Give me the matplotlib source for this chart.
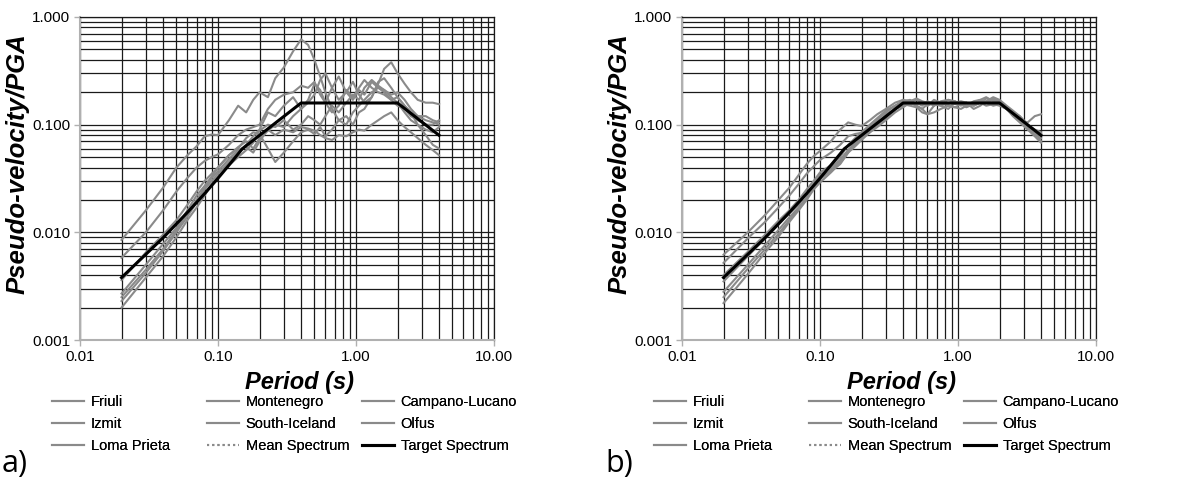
import matplotlib
matplotlib.use("Agg")
import matplotlib.pyplot as plt
from matplotlib.lines import Line2D
from matplotlib.ticker import LogLocator, FixedLocator, NullFormatter

plt.rcParams["font.family"] = ["Liberation Sans", "DejaVu Sans"]

# periods (s) at which the record spectra are read
periods = [0.02, 0.03, 0.04, 0.05, 0.06, 0.07, 0.08, 0.09, 0.10, 0.12,
           0.14, 0.16, 0.18, 0.20, 0.23, 0.26, 0.30, 0.35, 0.40, 0.45,
           0.50, 0.55, 0.60, 0.67, 0.75, 0.85, 0.95, 1.05, 1.15, 1.30,
           1.45, 1.60, 1.80, 2.00, 2.25, 2.50, 2.80, 3.20, 3.60, 4.00]

record_names = ["Friuli", "Montenegro", "Campano-Lucano", "Izmit",
                "South-Iceland", "Olfus", "Loma Prieta"]

# a) unscaled records
friuli_a = [0.0085, 0.016, 0.026, 0.040, 0.052, 0.063, 0.078, 0.081, 0.080, 0.11,
            0.15, 0.13, 0.17, 0.20, 0.18, 0.27, 0.34, 0.48, 0.62, 0.55,
            0.40, 0.28, 0.20, 0.14, 0.11, 0.10, 0.13, 0.15, 0.17, 0.20,
            0.22, 0.21, 0.18, 0.16, 0.13, 0.11, 0.10, 0.09, 0.085, 0.095]
montenegro_a = [0.0058, 0.010, 0.016, 0.024, 0.032, 0.040, 0.046, 0.050, 0.053, 0.065,
                0.080, 0.090, 0.095, 0.10, 0.14, 0.17, 0.19, 0.20, 0.23, 0.22,
                0.25, 0.19, 0.16, 0.22, 0.28, 0.20, 0.17, 0.21, 0.19, 0.25,
                0.22, 0.20, 0.17, 0.15, 0.14, 0.12, 0.11, 0.10, 0.10, 0.11]
campano_a = [0.0036, 0.0065, 0.0095, 0.013, 0.018, 0.024, 0.030, 0.035, 0.040, 0.052,
             0.060, 0.075, 0.085, 0.082, 0.060, 0.045, 0.055, 0.070, 0.085, 0.090,
             0.082, 0.095, 0.078, 0.090, 0.11, 0.12, 0.10, 0.13, 0.14, 0.18,
             0.24, 0.33, 0.38, 0.30, 0.24, 0.20, 0.17, 0.16, 0.16, 0.155]
izmit_a = [0.0027, 0.0050, 0.0078, 0.011, 0.016, 0.022, 0.027, 0.033, 0.040, 0.052,
           0.062, 0.070, 0.060, 0.075, 0.088, 0.10, 0.095, 0.12, 0.14, 0.16,
           0.19, 0.26, 0.30, 0.22, 0.17, 0.20, 0.25, 0.19, 0.16, 0.18,
           0.25, 0.27, 0.22, 0.18, 0.15, 0.13, 0.10, 0.08, 0.065, 0.06]
south_iceland_a = [0.0025, 0.0045, 0.0070, 0.0105, 0.015, 0.020, 0.026, 0.032, 0.037, 0.048,
                   0.058, 0.062, 0.055, 0.070, 0.090, 0.080, 0.090, 0.085, 0.095, 0.092,
                   0.088, 0.080, 0.075, 0.072, 0.080, 0.078, 0.085, 0.090, 0.088, 0.10,
                   0.11, 0.12, 0.13, 0.11, 0.095, 0.085, 0.075, 0.065, 0.058, 0.052]
olfus_a = [0.0023, 0.0042, 0.0067, 0.010, 0.014, 0.019, 0.025, 0.030, 0.035, 0.045,
           0.055, 0.065, 0.078, 0.090, 0.13, 0.12, 0.15, 0.18, 0.14, 0.17,
           0.24, 0.21, 0.16, 0.13, 0.15, 0.21, 0.18, 0.22, 0.26, 0.22,
           0.20, 0.19, 0.17, 0.18, 0.15, 0.13, 0.12, 0.11, 0.105, 0.10]
loma_a = [0.0020, 0.0038, 0.0060, 0.0090, 0.013, 0.017, 0.022, 0.028, 0.033, 0.042,
          0.050, 0.058, 0.068, 0.088, 0.10, 0.095, 0.11, 0.090, 0.10, 0.12,
          0.11, 0.10, 0.12, 0.15, 0.13, 0.16, 0.19, 0.17, 0.22, 0.26,
          0.23, 0.21, 0.19, 0.20, 0.17, 0.14, 0.12, 0.12, 0.11, 0.105]

# b) scaled records
friuli_b = [0.0062, 0.0100, 0.0145, 0.020, 0.026, 0.034, 0.043, 0.051, 0.057, 0.070,
            0.090, 0.105, 0.100, 0.097, 0.110, 0.125, 0.14, 0.16, 0.17, 0.155,
            0.16, 0.15, 0.165, 0.155, 0.15, 0.16, 0.155, 0.16, 0.15, 0.165,
            0.17, 0.16, 0.175, 0.165, 0.145, 0.13, 0.115, 0.10, 0.09, 0.085]
montenegro_b = [0.0052, 0.0088, 0.0125, 0.017, 0.022, 0.028, 0.035, 0.041, 0.047, 0.055,
                0.065, 0.078, 0.082, 0.084, 0.095, 0.11, 0.13, 0.15, 0.165, 0.17,
                0.155, 0.16, 0.15, 0.17, 0.16, 0.155, 0.165, 0.15, 0.16, 0.15,
                0.16, 0.175, 0.17, 0.16, 0.14, 0.125, 0.11, 0.095, 0.085, 0.078]
campano_b = [0.0040, 0.0066, 0.0095, 0.0128, 0.016, 0.020, 0.025, 0.030, 0.036, 0.042,
             0.050, 0.065, 0.075, 0.085, 0.10, 0.115, 0.135, 0.15, 0.165, 0.16,
             0.15, 0.14, 0.125, 0.15, 0.16, 0.15, 0.145, 0.155, 0.16, 0.14,
             0.15, 0.165, 0.16, 0.155, 0.14, 0.125, 0.11, 0.105, 0.12, 0.125]
izmit_b = [0.0035, 0.0060, 0.0088, 0.0118, 0.0150, 0.018, 0.023, 0.028, 0.034, 0.040,
           0.047, 0.058, 0.068, 0.080, 0.095, 0.105, 0.12, 0.14, 0.15, 0.165,
           0.17, 0.16, 0.15, 0.16, 0.155, 0.17, 0.165, 0.155, 0.15, 0.16,
           0.17, 0.18, 0.165, 0.16, 0.145, 0.13, 0.12, 0.10, 0.088, 0.082]
south_iceland_b = [0.0028, 0.0050, 0.0076, 0.0105, 0.0138, 0.017, 0.021, 0.026, 0.032, 0.037,
                   0.043, 0.055, 0.070, 0.078, 0.090, 0.10, 0.125, 0.14, 0.155, 0.15,
                   0.145, 0.13, 0.125, 0.13, 0.14, 0.15, 0.145, 0.14, 0.15, 0.155,
                   0.16, 0.15, 0.155, 0.15, 0.14, 0.125, 0.11, 0.095, 0.08, 0.075]
olfus_b = [0.0025, 0.0046, 0.0070, 0.0097, 0.013, 0.0165, 0.021, 0.026, 0.031, 0.038,
           0.046, 0.058, 0.065, 0.075, 0.085, 0.10, 0.115, 0.145, 0.17, 0.165,
           0.175, 0.165, 0.16, 0.15, 0.165, 0.17, 0.16, 0.165, 0.16, 0.15,
           0.16, 0.165, 0.18, 0.17, 0.15, 0.135, 0.12, 0.10, 0.085, 0.07]
loma_b = [0.0022, 0.0041, 0.0065, 0.0091, 0.0125, 0.016, 0.020, 0.025, 0.029, 0.036,
          0.044, 0.055, 0.063, 0.072, 0.085, 0.095, 0.11, 0.13, 0.145, 0.16,
          0.15, 0.14, 0.155, 0.16, 0.15, 0.14, 0.16, 0.155, 0.145, 0.155,
          0.165, 0.16, 0.15, 0.155, 0.14, 0.12, 0.105, 0.09, 0.078, 0.068]

# target spectrum (pseudo-velocity / PGA)
target_periods = [0.02, 0.04, 0.06, 0.08, 0.10, 0.125, 0.15, 0.4, 2.0, 4.0]
target_values = [0.0038, 0.0089, 0.0153, 0.0229, 0.0318, 0.0448, 0.0597, 0.159, 0.159, 0.0796]

records_a = [friuli_a, montenegro_a, campano_a, izmit_a, south_iceland_a, olfus_a, loma_a]
records_b = [friuli_b, montenegro_b, campano_b, izmit_b, south_iceland_b, olfus_b, loma_b]

x_ticks = [0.01, 0.1, 1, 10]
x_tick_labels = ["0.01", "0.10", "1.00", "10.00"]
y_ticks = [0.001, 0.01, 0.1, 1]
y_tick_labels = ["0.001", "0.010", "0.100", "1.000"]

GREY = "#8a8a8a"
W, H = 1198, 484

fig = plt.figure(figsize=(W / 100, H / 100), dpi=100)


def draw_panel(left_px, records, letter, letter_x_px):
    ax = fig.add_axes([left_px / W, 1 - 340 / H, 414 / W, 323 / H])
    for rec in records:
        ax.plot(periods, rec, color=GREY, lw=1.5, zorder=3)
    ax.plot(target_periods, target_values, color="black", lw=2.2, zorder=4)

    ax.set_xscale("log")
    ax.set_yscale("log")
    ax.set_xlim(0.01, 10)
    ax.set_ylim(0.001, 1)
    ax.xaxis.set_major_locator(FixedLocator(x_ticks))
    ax.yaxis.set_major_locator(FixedLocator(y_ticks))
    ax.set_xticklabels(x_tick_labels)
    ax.set_yticklabels(y_tick_labels)
    ax.xaxis.set_minor_locator(LogLocator(base=10, subs=range(2, 10)))
    ax.yaxis.set_minor_locator(LogLocator(base=10, subs=range(2, 10)))
    ax.xaxis.set_minor_formatter(NullFormatter())
    ax.yaxis.set_minor_formatter(NullFormatter())
    ax.tick_params(which="major", length=4, width=1, color="#b0b0b0",
                   labelsize=11, pad=3)
    ax.tick_params(which="minor", length=0)
    ax.set_axisbelow(True)
    ax.grid(which="both", color="#1a1a1a", lw=0.9)

    for side in ["left", "bottom"]:
        ax.spines[side].set_color("#b0b0b0")
        ax.spines[side].set_linewidth(1.5)
    for side in ["top", "right"]:
        ax.spines[side].set_color("#1a1a1a")
        ax.spines[side].set_linewidth(0.9)

    ax.set_xlabel("Period (s)", fontsize=17, fontweight="bold", style="italic", labelpad=5)
    ax.set_ylabel("Pseudo-velocity/PGA", fontsize=18.5, fontweight="bold", style="italic",
                  labelpad=2)
    ax.xaxis.label.set_x(0.53)
    ax.yaxis.label.set_y(0.545)

    # legend in three columns of three entries
    rec_handles = [Line2D([], [], color=GREY, lw=1.5) for _ in record_names]
    mean_handle = Line2D([], [], color=GREY, lw=1.5, ls=(0, (1, 1.5)))
    target_handle = Line2D([], [], color="black", lw=2.2)
    columns = [
        ([rec_handles[0], rec_handles[3], rec_handles[6]],
         [record_names[0], record_names[3], record_names[6]]),
        ([rec_handles[1], rec_handles[4], mean_handle],
         [record_names[1], record_names[4], "Mean Spectrum"]),
        ([rec_handles[2], rec_handles[5], target_handle],
         [record_names[2], record_names[5], "Target Spectrum"]),
    ]
    offsets = [0, 155, 310]
    for (handles, labels), off in zip(columns, offsets):
        leg = fig.legend(handles, labels, loc="upper left",
                         bbox_to_anchor=((left_px - 28 + off) / W, 1 - 395 / H),
                         frameon=False, fontsize=10.5, handlelength=2.2,
                         handletextpad=0.45, labelspacing=0.55, borderpad=0,
                         borderaxespad=0)
        fig.add_artist(leg)

    fig.text(letter_x_px / W, 1 - 464 / H, letter, fontsize=22,
             family=["Open Sans", "DejaVu Sans"], va="center", ha="left")
    return ax


draw_panel(80, records_a, "a)", 2)
draw_panel(682, records_b, "b)", 605)

fig.savefig("out.png", dpi=100)
